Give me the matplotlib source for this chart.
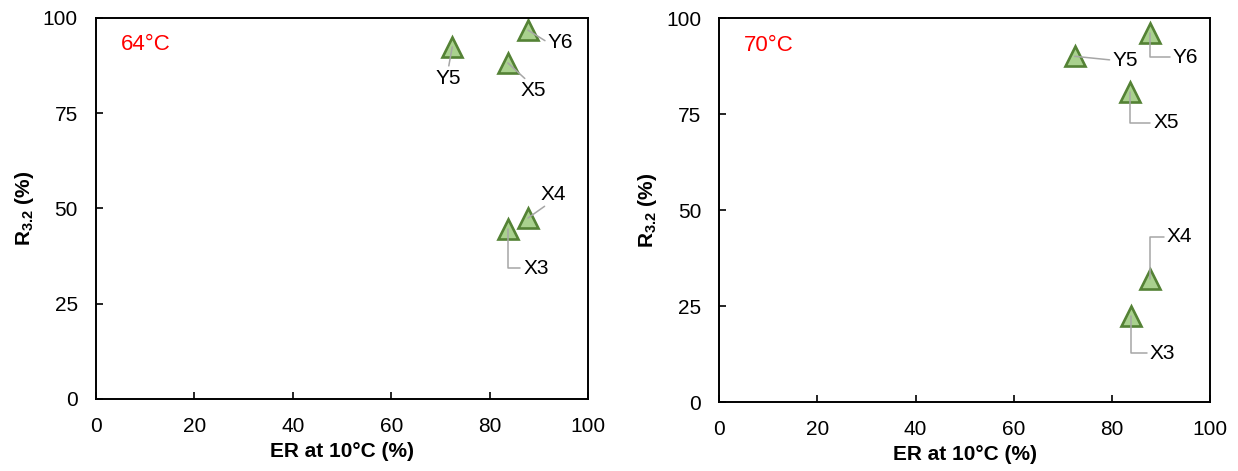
import matplotlib
matplotlib.use("Agg")
import matplotlib.pyplot as plt

plt.rcParams["font.family"] = ["Liberation Sans", "DejaVu Sans"]
plt.rcParams["mathtext.fontset"] = "custom"
plt.rcParams["mathtext.rm"] = "Liberation Sans"
plt.rcParams["mathtext.bf"] = "Liberation Sans:bold"

# --------------------------------------------------------------- data
names = ["X3", "X4", "X5", "Y5", "Y6"]
er_10c = [83.8, 87.8, 83.7, 72.4, 87.8]
r32_64c = [44.6, 47.5, 88.2, 92.4, 96.8]
r32_70c = [22.5, 32.2, 80.8, 90.1, 96.2]

# label text positions (data coords)
lab_64c = [(89.4, 34.3), (93.0, 53.8), (88.8, 80.9), (71.6, 84.2), (94.4, 93.6)]
lab_70c = [(90.3, 12.8), (93.7, 43.1), (91.0, 72.8), (82.7, 89.1), (95.0, 89.8)]

x_ticks = [0, 20, 40, 60, 80, 100]
y_ticks = [0, 25, 50, 75, 100]

# leader style per label: (connection, relpos)
ELBOW = "angle,angleA=0,angleB=90,rad=0"
STRAIGHT = "arc3,rad=0"
lead_64c = [(ELBOW, (0, 0.5)), (STRAIGHT, (0.3, 0)), (STRAIGHT, (0.3, 1)),
            (STRAIGHT, (0.5, 1)), (STRAIGHT, (0, 0.5))]
lead_70c = [(ELBOW, (0, 0.5)), (ELBOW, (0, 0.5)), (ELBOW, (0, 0.5)),
            (STRAIGHT, (0, 0.5)), (ELBOW, (0, 0.5))]

FACE = "#A9D18E"
EDGE = "#548235"
LEAD = "#A6A6A6"

fig = plt.figure(figsize=(12.38, 4.71), dpi=100)
ax1 = fig.add_axes([0.0775, 0.1529, 0.3975, 0.8089])
ax2 = fig.add_axes([0.5810, 0.1459, 0.3964, 0.8153])


def draw_panel(ax, r32, labels, leads, temp):
    ax.plot(er_10c, r32, linestyle="none", marker="^", markersize=14,
            markerfacecolor=FACE, markeredgecolor=EDGE, markeredgewidth=1.9,
            zorder=2, clip_on=False)
    for name, x, y, (tx, ty), (cs, rp) in zip(names, er_10c, r32, labels, leads):
        ax.annotate(name, xy=(x, y), xytext=(tx, ty), fontsize=15,
                    ha="center", va="center", zorder=4,
                    arrowprops=dict(arrowstyle="-", color=LEAD, lw=1.1,
                                    connectionstyle=cs, relpos=rp,
                                    shrinkA=0, shrinkB=0))
    ax.text(0.05, 0.93, temp, transform=ax.transAxes, color="red",
            fontsize=16, ha="left", va="center")

    ax.set_xlim(0, 100)
    ax.set_ylim(0, 100)
    ax.set_xticks(x_ticks)
    ax.set_yticks(y_ticks)
    ax.tick_params(direction="in", length=5, width=1.2, labelsize=15, pad=13)
    for sp in ax.spines.values():
        sp.set_linewidth(1.4)
    ax.set_xlabel("ER at 10°C (%)", fontsize=15, fontweight="bold", labelpad=4)
    ax.set_ylabel(r"R$_{\mathregular{3.2}}$ (%)", fontsize=15,
                  fontweight="bold", labelpad=5)


draw_panel(ax1, r32_64c, lab_64c, lead_64c, "64°C")
draw_panel(ax2, r32_70c, lab_70c, lead_70c, "70°C")

fig.savefig("out.png", dpi=100)
